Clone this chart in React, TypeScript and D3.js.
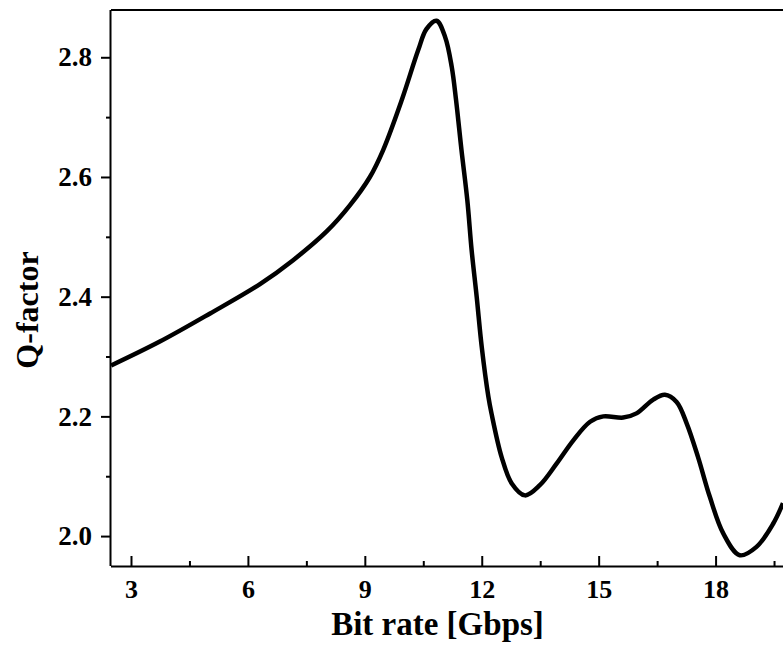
import React, { useEffect, useRef } from "react";
import * as d3 from "d3";

const bitRate = [2.49, 3.74, 5.03, 6.31, 7.16, 8.02, 8.62, 9.13, 9.47, 9.95, 10.37, 10.58, 10.84, 11.06, 11.23, 11.34, 11.48, 11.63, 11.74, 11.87, 12.0, 12.17, 12.25, 12.51, 12.77, 13.11, 13.49, 13.92, 14.35, 14.78, 15.12, 15.63, 15.97, 16.4, 16.7, 17.0, 17.26, 17.55, 17.85, 18.2, 18.62, 19.05, 19.48, 19.73];
const qFactor = [2.285, 2.325, 2.372, 2.421, 2.461, 2.509, 2.553, 2.6, 2.645, 2.729, 2.812, 2.847, 2.861, 2.834, 2.784, 2.729, 2.645, 2.561, 2.478, 2.4, 2.316, 2.233, 2.205, 2.132, 2.088, 2.068, 2.085, 2.121, 2.16, 2.191, 2.2, 2.198, 2.205, 2.228, 2.236, 2.224, 2.188, 2.132, 2.066, 2.004, 1.968, 1.982, 2.021, 2.055];

const xMajor = [3, 6, 9, 12, 15, 18];
const xMinor = [4.5, 7.5, 10.5, 13.5, 16.5, 19.5];
const yMajor = [2.0, 2.2, 2.4, 2.6, 2.8];
const yMinor = [2.1, 2.3, 2.5, 2.7];

const W = 783;
const H = 648;
const L = 111, R = 783, T = 10, B = 566;
const FONT = "'Liberation Serif', 'Times New Roman', serif";

export default function App() {
  const ref = useRef<SVGSVGElement>(null);

  useEffect(() => {
    const svg = d3.select(ref.current);
    svg.selectAll("*").remove();

    const x = d3.scaleLinear().domain([2.487, 19.73]).range([L, R]);
    const y = d3.scaleLinear().domain([1.95, 2.879]).range([B, T]);

    // top border
    svg.append("line").attr("x1", L).attr("x2", R + 5).attr("y1", T).attr("y2", T)
      .attr("stroke", "#000").attr("stroke-width", 2);

    // x minor
    const gxm = svg.append("g").attr("transform", `translate(0,${B})`)
      .call(d3.axisBottom(x).tickValues(xMinor).tickSizeInner(-5).tickSizeOuter(0).tickFormat(() => ""));
    gxm.select(".domain").remove();
    gxm.selectAll("line").attr("stroke", "#000").attr("stroke-width", 2);

    const gx = svg.append("g").attr("transform", `translate(0,${B})`)
      .call(d3.axisBottom(x).tickValues(xMajor).tickSizeInner(-10).tickSizeOuter(0).tickPadding(14).tickFormat(d3.format("d")));
    gx.select(".domain").attr("stroke", "#000").attr("stroke-width", 2).attr("d", `M${L},0.5H${R + 5}`);
    gx.selectAll("line").attr("stroke", "#000").attr("stroke-width", 2);
    gx.selectAll("text").attr("font-family", FONT).attr("font-weight", "bold").attr("font-size", 26).attr("fill", "#000");

    // y minor
    const gym = svg.append("g").attr("transform", `translate(${L},0)`)
      .call(d3.axisLeft(y).tickValues(yMinor).tickSizeInner(5).tickSizeOuter(0).tickFormat(() => ""));
    gym.select(".domain").remove();
    gym.selectAll("line").attr("stroke", "#000").attr("stroke-width", 2);

    const gy = svg.append("g").attr("transform", `translate(${L},0)`)
      .call(d3.axisLeft(y).tickValues(yMajor).tickSizeInner(10).tickSizeOuter(0).tickPadding(9).tickFormat(d3.format(".1f")));
    gy.select(".domain").attr("stroke", "#000").attr("stroke-width", 2).attr("d", `M-0.5,${T}V${B}`);
    gy.selectAll("line").attr("stroke", "#000").attr("stroke-width", 2);
    gy.selectAll("text").attr("font-family", FONT).attr("font-weight", "bold").attr("font-size", 27).attr("fill", "#000");

    // curve
    const data = bitRate.map((b, i) => [b, qFactor[i]] as [number, number]);
    const line = d3.line<[number, number]>()
      .x(d => x(d[0])).y(d => y(d[1]))
      .curve(d3.curveCatmullRom.alpha(0.5));
    svg.append("path").datum(data).attr("d", line).attr("fill", "none")
      .attr("stroke", "#000").attr("stroke-width", 4.5).attr("stroke-linejoin", "round");

    // titles
    svg.append("text").attr("x", 437.5).attr("y", 635).attr("text-anchor", "middle")
      .attr("font-family", FONT).attr("font-weight", "bold").attr("font-size", 33).attr("fill", "#000")
      .text("Bit rate [Gbps]");
    svg.append("text").attr("transform", `translate(38,310) rotate(-90)`).attr("text-anchor", "middle")
      .attr("font-family", FONT).attr("font-weight", "bold").attr("font-size", 32).attr("fill", "#000")
      .text("Q-factor");
  }, []);

  return (
    <svg ref={ref} width={W} height={H}
      style={{ position: "absolute", left: 0, top: 0, background: "#fff" }} />
  );
}
